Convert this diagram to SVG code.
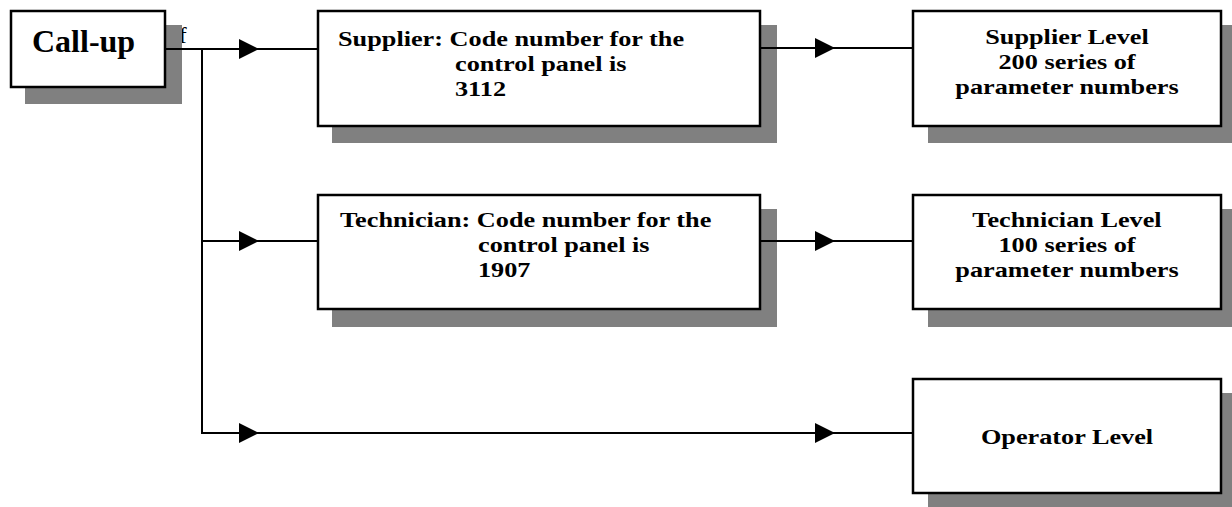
<svg xmlns="http://www.w3.org/2000/svg" xmlns:xlink="http://www.w3.org/1999/xlink" width="1232" height="507" viewBox="0 0 1232 507">
<style>
.bg{fill:#ffffff}
.sh{fill:#808080}
.bx{fill:#ffffff;stroke:#000000;stroke-width:2.5}
.t{font-family:"Liberation Serif","Times New Roman",serif;font-weight:bold;font-size:21px;fill:#000000}
.c{text-anchor:middle}
.big{font-family:"Liberation Serif","Times New Roman",serif;font-weight:bold;font-size:32px;fill:#000000}
.ln{fill:none;stroke:#000000;stroke-width:2}
.ah{fill:#000000}
</style>
<defs>
<path id="ah" d="M0,-10 L20,0 L0,10 Z"/>
</defs>
<rect class="bg" x="0" y="0" width="1232" height="507"/>
<text x="179" y="43" style="font-family:'Liberation Serif',serif;font-size:23px;fill:#000">f</text>
<g id="callup">
<rect class="sh" x="25" y="25" width="157" height="79"/>
<rect class="bx" x="11" y="11" width="154" height="76"/>
<text class="big" x="32" y="52">Call-up</text>
</g>
<g id="supplier">
<rect class="sh" x="332" y="25" width="445" height="118"/>
<rect class="bx" x="318" y="11" width="442" height="115"/>
<text class="t" transform="matrix(1.25 0 0 1 338 46)"><tspan x="0" y="0">Supplier: Code number for the</tspan><tspan x="93.6" y="25">control panel is</tspan><tspan x="93.6" y="50">3112</tspan></text>
</g>
<g id="supplier-level">
<rect class="sh" x="928" y="25" width="305" height="118"/>
<rect class="bx" x="913" y="11" width="308" height="115"/>
<text class="t c" transform="matrix(1.25 0 0 1 1067 44)"><tspan x="0" y="0">Supplier Level</tspan><tspan x="0" y="25">200 series of</tspan><tspan x="0" y="50">parameter numbers</tspan></text>
</g>
<g id="technician">
<rect class="sh" x="332" y="209" width="445" height="118"/>
<rect class="bx" x="318" y="195" width="442" height="114"/>
<text class="t" transform="matrix(1.25 0 0 1 340 227)"><tspan x="0" y="0">Technician: Code number for the</tspan><tspan x="110.4" y="25">control panel is</tspan><tspan x="110.4" y="50">1907</tspan></text>
</g>
<g id="technician-level">
<rect class="sh" x="928" y="209" width="305" height="118"/>
<rect class="bx" x="913" y="195" width="308" height="114"/>
<text class="t c" transform="matrix(1.25 0 0 1 1067 227)"><tspan x="0" y="0">Technician Level</tspan><tspan x="0" y="25">100 series of</tspan><tspan x="0" y="50">parameter numbers</tspan></text>
</g>
<g id="operator-level">
<rect class="sh" x="928" y="393" width="305" height="114"/>
<rect class="bx" x="913" y="379" width="308" height="114"/>
<text class="t c" transform="matrix(1.25 0 0 1 1067 444)">Operator Level</text>
</g>
<g id="connectors">
<path class="ln" d="M165,49 H318"/>
<path class="ln" d="M202,49 V433 H913"/>
<path class="ln" d="M202,241 H318"/>
<path class="ln" d="M760,48 H913"/>
<path class="ln" d="M760,241 H913"/>
<use class="ah" href="#ah" xlink:href="#ah" x="239" y="49"/>
<use class="ah" href="#ah" xlink:href="#ah" x="239" y="241"/>
<use class="ah" href="#ah" xlink:href="#ah" x="239" y="433"/>
<use class="ah" href="#ah" xlink:href="#ah" x="815" y="48"/>
<use class="ah" href="#ah" xlink:href="#ah" x="815" y="241"/>
<use class="ah" href="#ah" xlink:href="#ah" x="815" y="433"/>
</g>
</svg>
